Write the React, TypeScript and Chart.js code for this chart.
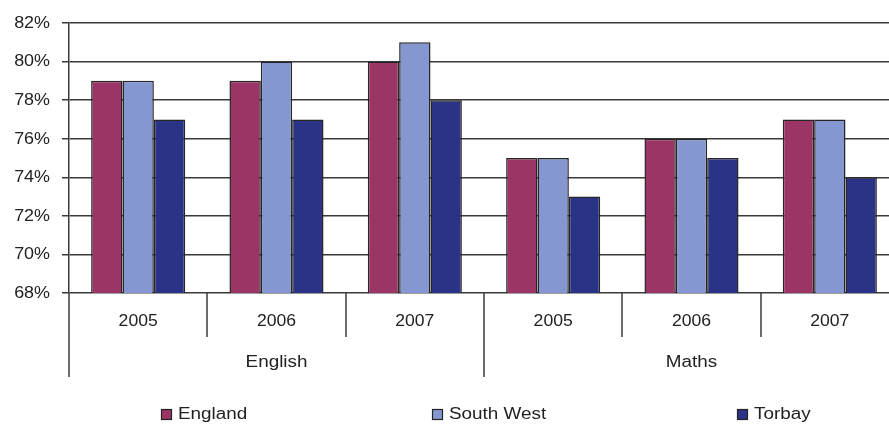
import React, { useEffect, useRef } from "react";
import { Chart, registerables } from "chart.js";

Chart.register(...registerables);

// Subjects and years along the bottom axis
const subjects = ["English", "Maths"];
const years = ["2005", "2006", "2007"];

// Percentage of pupils reaching the expected level, per subject/year
const seriesNames = ["England", "South West", "Torbay"];
const england = [79, 79, 80, 75, 76, 77];
const southWest = [79, 80, 81, 75, 76, 77];
const torbay = [77, 77, 78, 73, 75, 74];

const yTicks = [68, 70, 72, 74, 76, 78, 80, 82];

const colors = ["#9B3566", "#8597D0", "#2A3386"];
const FONT = "'Liberation Sans', Arial, Helvetica, sans-serif";
const TEXT = "#222222";
const LINE = "#3a3a3a";

const labels = subjects.flatMap((s) => years.map((y) => `${s} ${y}`));

// Wide-set text, drawn with a horizontal stretch
function wideText(ctx: CanvasRenderingContext2D, text: string, x: number, y: number, size: number, stretch: number, align: CanvasTextAlign) {
  ctx.save();
  ctx.translate(x, y);
  ctx.scale(stretch, 1);
  ctx.font = `${size}px ${FONT}`;
  ctx.textAlign = align;
  ctx.textBaseline = "middle";
  ctx.fillText(text, 0, 0);
  ctx.restore();
}

// Draws the value labels, the two-level category axis and the spread-out legend
const axisAndLegend = {
  id: "axisAndLegend",
  afterDraw(chart: any) {
    const { ctx, chartArea, scales } = chart;
    const x = scales.x;
    const y = scales.y;
    const n = labels.length;
    const step = (chartArea.right - chartArea.left) / n;
    const bottom = chartArea.bottom;
    ctx.save();
    ctx.fillStyle = TEXT;

    yTicks.forEach((v) => {
      wideText(ctx, `${v}%`, 50, y.getPixelForValue(v) + 0.5, 16, 1.12, "right");
    });

    ctx.strokeStyle = LINE;
    ctx.lineWidth = 1.5;
    for (let i = 0; i <= n; i++) {
      const px = Math.round(chartArea.left + i * step);
      const long = i % years.length === 0;
      ctx.beginPath();
      ctx.moveTo(px, bottom);
      ctx.lineTo(px, bottom + (long ? 84 : 44));
      ctx.stroke();
    }
    for (let i = 0; i < n; i++) {
      wideText(ctx, years[i % years.length], x.getPixelForValue(i), bottom + 29, 16, 1.1, "center");
    }
    subjects.forEach((s, g) => {
      const cx = chartArea.left + (g * years.length + years.length / 2) * step;
      wideText(ctx, s, cx, bottom + 70, 16, 1.18, "center");
    });

    // legend
    const legendX = [161, 432, 737];
    const ly = 414;
    chart.data.datasets.forEach((ds: any, i: number) => {
      const lx = legendX[i];
      ctx.fillStyle = ds.backgroundColor;
      ctx.fillRect(lx, ly - 5, 10, 10);
      ctx.strokeStyle = "#222";
      ctx.lineWidth = 1.2;
      ctx.strokeRect(lx + 0.5, ly - 4.5, 10, 10);
      ctx.fillStyle = TEXT;
      wideText(ctx, ds.label, lx + 17, ly + 1, 16, 1.18, "left");
    });
    ctx.restore();
  },
};

export default function App() {
  const ref = useRef<HTMLCanvasElement>(null);

  useEffect(() => {
    if (!ref.current) return;
    const values = [england, southWest, torbay];
    const chart = new Chart(ref.current, {
      type: "bar",
      data: {
        labels,
        datasets: seriesNames.map((name, i) => ({
          label: name,
          data: values[i],
          backgroundColor: colors[i],
          borderColor: "#262626",
          borderWidth: 1.5,
          categoryPercentage: 0.68,
          barPercentage: 1,
        })),
      },
      options: {
        responsive: false,
        animation: false,
        layout: { padding: { top: 23, bottom: 131, left: 0, right: 11 } },
        plugins: { legend: { display: false }, tooltip: { enabled: false } },
        scales: {
          x: { display: false },
          y: {
            min: yTicks[0],
            max: yTicks[yTicks.length - 1],
            afterFit(scale: any) {
              scale.width = 69;
            },
            afterBuildTicks(scale: any) {
              scale.ticks = yTicks.map((v) => ({ value: v }));
            },
            ticks: {
              padding: 12,
              color: "rgba(0,0,0,0)",
              font: { family: FONT, size: 15 },
              callback: (v: any) => `${v}%`,
            },
            grid: { color: LINE, lineWidth: 1.5, tickLength: 7 },
            border: { color: LINE, width: 1.5 },
          },
        },
      },
      plugins: [axisAndLegend],
    });
    return () => chart.destroy();
  }, []);

  return (
    <div
      style={{
        position: "absolute",
        left: 0,
        top: 0,
        width: 889,
        height: 424,
        overflow: "hidden",
        background: "#fff",
      }}
    >
      <canvas ref={ref} width={910} height={424} />
    </div>
  );
}
